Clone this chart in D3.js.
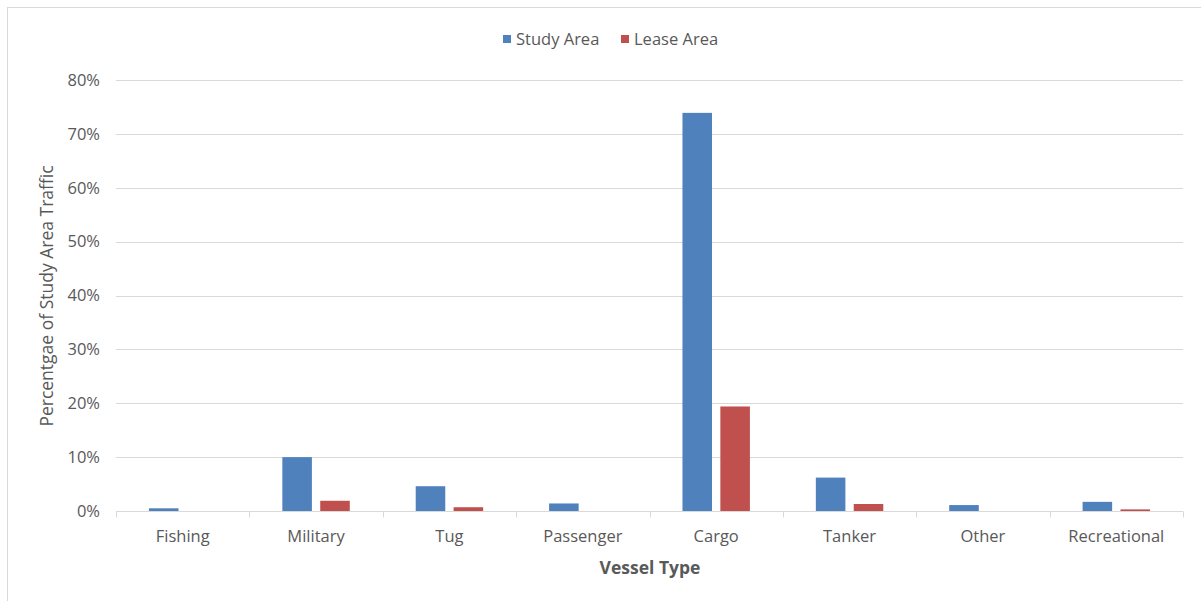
<!DOCTYPE html>
<html>
<head>
<meta charset="utf-8">
<script src="https://cdn.jsdelivr.net/npm/d3@7"></script>
<style>
  body { margin: 0; background: #fff; }
  svg text { font-family: "Open Sans", "Liberation Sans", sans-serif; fill: #595959; }
</style>
</head>
<body>
<div id="chart-area"></div>
<script>
// data
const vesselTypes = ["Fishing", "Military", "Tug", "Passenger", "Cargo", "Tanker", "Other", "Recreational"]
const seriesNames = ["Study Area", "Lease Area"]
const studyArea = [0.005, 0.100, 0.046, 0.014, 0.739, 0.062, 0.011, 0.017]
const leaseArea = [0.000, 0.019, 0.007, 0.000, 0.194, 0.013, 0.000, 0.003]
const yTicks = [0, 0.1, 0.2, 0.3, 0.4, 0.5, 0.6, 0.7, 0.8]
const colors = ["#4F81BD", "#C0504D"]

const dataset = vesselTypes.map((t, i) => ({ type: t, values: [studyArea[i], leaseArea[i]] }))

const svgWidth = 1201
const svgHeight = 601
const margin = { left: 116, right: 18, top: 80, bottom: 90 }

const svg = d3.select("#chart-area")
    .append("svg")
    .attr("width", svgWidth)
    .attr("height", svgHeight)

// outer chart border (cut off at right/bottom like the screenshot)
svg.append("rect")
    .attr("x", 7.5).attr("y", 7.5)
    .attr("width", 1200).attr("height", 600)
    .attr("fill", "none")
    .attr("stroke", "#d9d9d9")

const xScale = d3.scaleBand()
    .domain(vesselTypes)
    .range([margin.left, svgWidth - margin.right])

const x1 = d3.scaleBand()
    .domain(seriesNames)
    .range([0, xScale.bandwidth()])
    .paddingInner(0.22)
    .paddingOuter(0.87)

const yScale = d3.scaleLinear()
    .domain([0, 0.8])
    .range([511, 80])

// gridlines
svg.append("g")
    .selectAll("line")
    .data(yTicks.slice(1))
    .join("line")
    .attr("x1", margin.left)
    .attr("x2", svgWidth - margin.right)
    .attr("y1", d => Math.round(yScale(d)) + 0.5)
    .attr("y2", d => Math.round(yScale(d)) + 0.5)
    .attr("stroke", "#d9d9d9")

// y labels
svg.append("g")
    .selectAll("text")
    .data(yTicks)
    .join("text")
    .attr("x", 100)
    .attr("y", d => yScale(d))
    .attr("dy", "0.35em")
    .attr("text-anchor", "end")
    .style("font-size", "16.5px")
    .text(d => d3.format(".0%")(d))

// bars
const groups = svg.append("g")
    .selectAll("g")
    .data(dataset)
    .join("g")
    .attr("transform", d => `translate(${xScale(d.type)},0)`)

groups.selectAll("rect")
    .data(d => d.values.map((v, i) => ({ key: seriesNames[i], value: v, i })))
    .join("rect")
    .attr("x", d => x1(d.key))
    .attr("width", x1.bandwidth())
    .attr("y", d => yScale(d.value))
    .attr("height", d => yScale(0) - yScale(d.value))
    .attr("fill", d => colors[d.i])

// x axis
const xAxis = svg.append("g")
    .attr("transform", `translate(0,${Math.round(yScale(0)) + 0.5})`)

xAxis.append("line")
    .attr("x1", margin.left)
    .attr("x2", svgWidth - margin.right)
    .attr("stroke", "#d9d9d9")

const boundaries = vesselTypes.map(t => xScale(t)).concat([svgWidth - margin.right])
xAxis.selectAll(".tick")
    .data(boundaries)
    .join("line")
    .attr("class", "tick")
    .attr("x1", d => Math.round(d) + 0.5)
    .attr("x2", d => Math.round(d) + 0.5)
    .attr("y1", 0)
    .attr("y2", 6)
    .attr("stroke", "#d9d9d9")

xAxis.selectAll("text")
    .data(vesselTypes)
    .join("text")
    .attr("x", d => xScale(d) + xScale.bandwidth() / 2)
    .attr("y", 25)
    .attr("dy", "0.35em")
    .attr("text-anchor", "middle")
    .style("font-size", "16.5px")
    .text(d => d)

// axis titles
svg.append("text")
    .attr("x", 650)
    .attr("y", 568)
    .attr("dy", "0.35em")
    .attr("text-anchor", "middle")
    .style("font-size", "17.5px")
    .style("font-weight", "bold")
    .text("Vessel Type")

svg.append("text")
    .attr("transform", "translate(47,296) rotate(-90)")
    .attr("dy", "0.35em")
    .attr("text-anchor", "middle")
    .style("font-size", "17.5px")
    .text("Percentgae of Study Area Traffic")

// legend
const legend = svg.append("g")
const legendX = [503, 621]
seriesNames.forEach((name, i) => {
    legend.append("rect")
        .attr("x", legendX[i])
        .attr("y", 35)
        .attr("width", 8)
        .attr("height", 8)
        .attr("fill", colors[i])
    legend.append("text")
        .attr("x", legendX[i] + 13)
        .attr("y", 39)
        .attr("dy", "0.35em")
        .style("font-size", "16.5px")
        .text(name)
})
</script>
</body>
</html>
